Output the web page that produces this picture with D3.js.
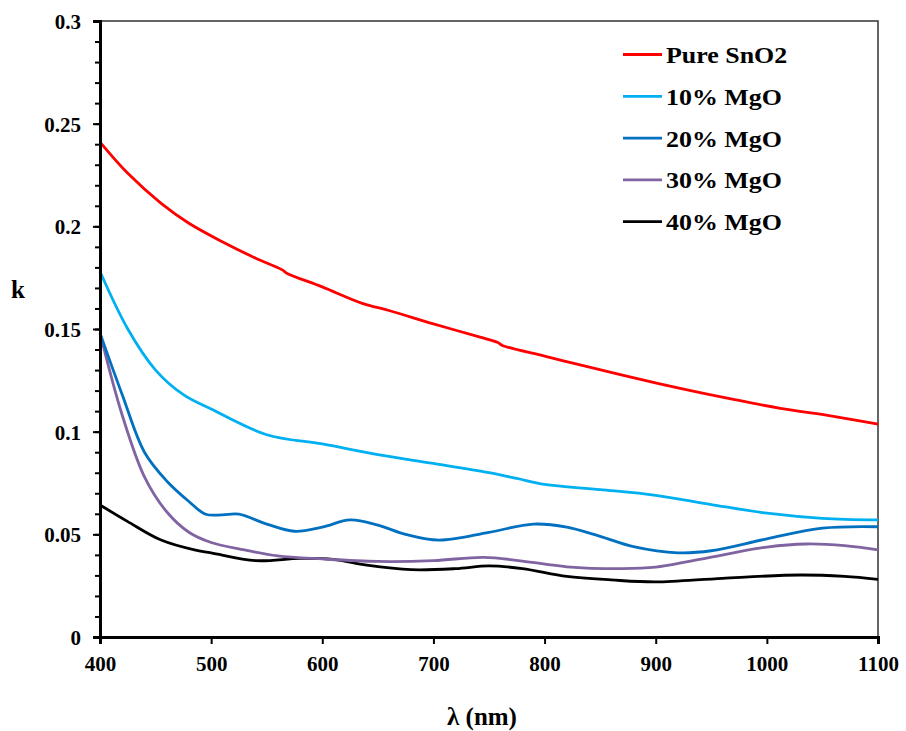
<!DOCTYPE html>
<html>
<head>
<meta charset="utf-8">
<script src="https://cdn.jsdelivr.net/npm/d3@7"></script>
<style>
  body { margin: 0; background: #fff; }
  svg text { font-family: "Liberation Serif", "Times New Roman", serif; font-weight: bold; fill: #000; }
  .axis path, .axis line { stroke: #000; }
  .axis text { font-size: 21px; }
</style>
</head>
<body>
<div id="chart"></div>
<script>
// wavelength (nm) / extinction coefficient k
var pureWl = [400, 425, 455, 480, 510, 540, 564, 568, 600, 636, 660, 700, 742, 758, 762, 800, 832, 870, 922, 970, 1012, 1060, 1100];
var pureK  = [0.241, 0.2258, 0.2112, 0.2015, 0.1925, 0.1845, 0.1788, 0.1772, 0.1705, 0.1625, 0.159, 0.1525, 0.146, 0.1434, 0.1420, 0.1368, 0.1325, 0.1275, 0.1211, 0.1157, 0.1114, 0.1075, 0.1037];

var mgo10Wl = [400, 425, 450, 475, 500, 550, 600, 650, 700, 750, 775, 800, 850, 900, 950, 1000, 1050, 1100];
var mgo10K  = [0.178, 0.150, 0.130, 0.118, 0.111, 0.0985, 0.094, 0.0888, 0.0845, 0.080, 0.0772, 0.0743, 0.0718, 0.069, 0.0645, 0.0603, 0.0578, 0.057];

var mgo20Wl = [400, 420, 440, 460, 480, 495, 510, 525, 550, 575, 600, 625, 650, 675, 705, 750, 790, 820, 850, 880, 920, 950, 1000, 1050, 1100];
var mgo20K  = [0.148, 0.118, 0.090, 0.076, 0.066, 0.0598, 0.0595, 0.0598, 0.055, 0.0515, 0.0535, 0.057, 0.0545, 0.050, 0.0472, 0.051, 0.055, 0.0535, 0.049, 0.044, 0.041, 0.042, 0.0478, 0.053, 0.0537];

var mgo30Wl = [400, 420, 440, 460, 480, 500, 530, 560, 600, 650, 700, 745, 780, 820, 870, 900, 930, 970, 1000, 1035, 1070, 1100];
var mgo30K  = [0.148, 0.108, 0.078, 0.061, 0.051, 0.046, 0.0424, 0.0395, 0.038, 0.0368, 0.0372, 0.0388, 0.037, 0.0342, 0.0333, 0.034, 0.0368, 0.041, 0.0438, 0.0453, 0.0445, 0.0424];

var mgo40Wl = [400, 425, 455, 485, 500, 540, 580, 610, 640, 680, 720, 750, 780, 820, 860, 900, 960, 1030, 1070, 1100];
var mgo40K  = [0.0643, 0.0562, 0.0472, 0.0424, 0.041, 0.0372, 0.0383, 0.0378, 0.035, 0.0328, 0.0333, 0.0346, 0.0333, 0.0295, 0.0278, 0.0268, 0.0286, 0.0302, 0.0295, 0.0281];

var seriesNames  = ["Pure SnO2", "10% MgO", "20% MgO", "30% MgO", "40% MgO"];
var seriesColors = ["#ff0000", "#00b0f0", "#0070c0", "#8064a2", "#000000"];
var xTicks = [400, 500, 600, 700, 800, 900, 1000, 1100];
var yTicks = [0, 0.05, 0.1, 0.15, 0.2, 0.25, 0.3];

var series = [
  { name: seriesNames[0], color: seriesColors[0], wl: pureWl,  k: pureK },
  { name: seriesNames[1], color: seriesColors[1], wl: mgo10Wl, k: mgo10K },
  { name: seriesNames[2], color: seriesColors[2], wl: mgo20Wl, k: mgo20K },
  { name: seriesNames[3], color: seriesColors[3], wl: mgo30Wl, k: mgo30K },
  { name: seriesNames[4], color: seriesColors[4], wl: mgo40Wl, k: mgo40K }
];

var margin = { top: 21, right: 28, bottom: 94, left: 100 };
var width = 906 - margin.left - margin.right;
var height = 731 - margin.top - margin.bottom;

var svg = d3.select("#chart").append("svg")
  .attr("width", 906)
  .attr("height", 731)
  .append("g")
  .attr("transform", "translate(" + margin.left + "," + margin.top + ")");

var x = d3.scaleLinear().domain([400, 1100]).range([0, width]);
var y = d3.scaleLinear().domain([0, 0.3]).range([height, 0]);

// top / right frame
svg.append("path")
  .attr("d", "M0,0H" + width + "V" + height)
  .attr("fill", "none")
  .attr("stroke", "#333")
  .attr("stroke-width", 1.5);

// minor y ticks
svg.append("g")
  .attr("class", "axis")
  .call(d3.axisLeft(y).tickValues(d3.range(0, 0.3001, 0.01)).tickSize(5).tickFormat(""))
  .call(function(g){ g.select(".domain").remove(); })
  .selectAll("line").attr("stroke-width", 2);

// lines
var line = d3.line()
  .curve(d3.curveCatmullRom.alpha(0.5))
  .x(function(d){ return x(d[0]); })
  .y(function(d){ return y(d[1]); });

series.slice().reverse().forEach(function(s){
  svg.append("path")
    .datum(d3.zip(s.wl, s.k))
    .attr("fill", "none")
    .attr("stroke", s.color)
    .attr("stroke-width", 2.8)
    .attr("d", line);
});

// axes
var yAxis = svg.append("g")
  .attr("class", "axis")
  .call(d3.axisLeft(y).tickValues(yTicks).tickSize(7).tickPadding(12)
    .tickFormat(function(d){ return d3.format("~g")(d); }));
yAxis.select(".domain").attr("stroke-width", 3);
yAxis.selectAll("line").attr("stroke-width", 2);
yAxis.selectAll("text").attr("dy", "0.35em");

var xAxis = svg.append("g")
  .attr("class", "axis")
  .attr("transform", "translate(0," + height + ")")
  .call(d3.axisBottom(x).tickValues(xTicks).tickSize(7).tickPadding(12).tickFormat(d3.format("d")));
xAxis.select(".domain").attr("stroke-width", 3);
xAxis.selectAll("line").attr("stroke-width", 2);

svg.selectAll(".axis").attr("font-family", null);

// axis titles
svg.append("text")
  .attr("text-anchor", "middle")
  .attr("x", width / 2 - 7)
  .attr("y", height + 88)
  .style("font-size", "25px")
  .text("λ (nm)");

svg.append("text")
  .attr("text-anchor", "middle")
  .attr("x", -82)
  .attr("y", y(0.165))
  .style("font-size", "25px")
  .text("k");

// legend
var legend = svg.selectAll(".legend")
  .data(series)
  .enter().append("g")
  .attr("class", "legend")
  .attr("transform", function(d, i){ return "translate(523," + (33.5 + i * 41.8) + ")"; });

legend.append("line")
  .attr("x1", 0).attr("x2", 39)
  .attr("stroke", function(d){ return d.color; })
  .attr("stroke-width", 2.8);

legend.append("text")
  .attr("transform", "translate(43,0) scale(1.08,1)")
  .attr("dy", "0.35em")
  .style("font-size", "24px")
  .text(function(d){ return d.name; });
</script>
</body>
</html>
